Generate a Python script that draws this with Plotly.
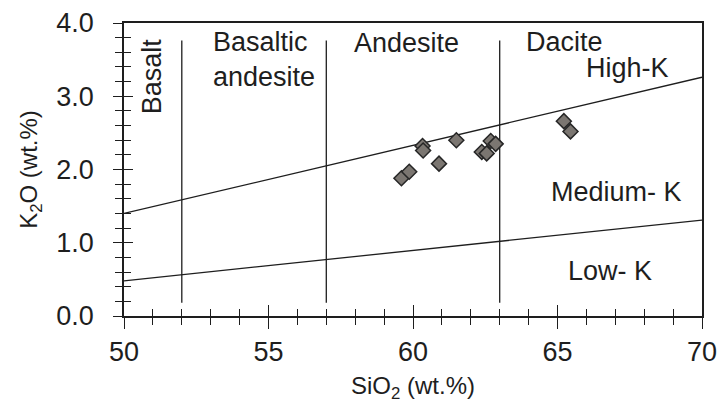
import plotly.graph_objects as go

# Sample data (SiO2 vs K2O, wt.%)
sio2 = [59.6, 59.87, 60.33, 60.35, 60.9, 61.5, 62.38, 62.55, 62.69, 62.86, 65.22, 65.45]
k2o = [1.88, 1.97, 2.32, 2.26, 2.08, 2.40, 2.24, 2.22, 2.39, 2.35, 2.66, 2.52]

# Classification boundaries
high_k_x = [50, 70]
high_k_y = [1.40, 3.26]
low_k_x = [50, 70]
low_k_y = [0.48, 1.31]
rock_bounds_x = [52, 57, 63]
rock_bounds_y = [0.18, 3.76]

# Labels
x_ticks = [50, 55, 60, 65, 70]
y_ticks = [0, 1, 2, 3, 4]
y_ticktext = ["0.0", "1.0", "2.0", "3.0", "4.0"]

FONT = "Liberation Sans, Arial, sans-serif"
INK = "#1e1e1e"
FS = 27

fig = go.Figure()

line_style = dict(color=INK, width=1.3)
fig.add_trace(go.Scatter(x=high_k_x, y=high_k_y, mode="lines", line=line_style,
                         showlegend=False, hoverinfo="skip"))
fig.add_trace(go.Scatter(x=low_k_x, y=low_k_y, mode="lines", line=line_style,
                         showlegend=False, hoverinfo="skip"))
for bx in rock_bounds_x:
    fig.add_trace(go.Scatter(x=[bx, bx], y=rock_bounds_y, mode="lines", line=line_style,
                             showlegend=False, hoverinfo="skip"))

fig.add_trace(go.Scatter(
    x=sio2, y=k2o, mode="markers",
    marker=dict(symbol="diamond", size=11.5, color="#7b7671",
                line=dict(color="#262626", width=1.5)),
    showlegend=False))

# invisible trace on overlay axes so they render
fig.add_trace(go.Scatter(x=[None], y=[None], xaxis="x2", yaxis="y2",
                         showlegend=False, hoverinfo="skip"))

labels = [
    dict(text="Basalt", x=51.0, y=3.27, textangle=-90, xanchor="center", yanchor="middle"),
    dict(text="Basaltic<br>andesite", x=53.0, y=3.50, xanchor="left", yanchor="middle", align="left"),
    dict(text="Andesite", x=57.9, y=3.73, xanchor="left", yanchor="middle"),
    dict(text="Dacite", x=63.85, y=3.74, xanchor="left", yanchor="middle"),
    dict(text="High-K", x=65.9, y=3.39, xanchor="left", yanchor="middle"),
    dict(text="Medium- K", x=64.7, y=1.69, xanchor="left", yanchor="middle"),
    dict(text="Low- K", x=65.3, y=0.61, xanchor="left", yanchor="middle"),
]
annotations = []
for a in labels:
    d = dict(xref="x", yref="y", showarrow=False,
             font=dict(family=FONT, size=FS, color=INK))
    d.update(a)
    annotations.append(d)

axis_common = dict(showgrid=False, zeroline=False, linecolor=INK, linewidth=1.5,
                   tickcolor=INK, tickwidth=1.3, automargin=False)

fig.update_layout(
    width=721, height=403,
    margin=dict(l=124, r=19, t=23, b=87),
    paper_bgcolor="white", plot_bgcolor="white",
    font=dict(family=FONT, size=FS, color=INK),
    annotations=annotations,
    xaxis=dict(range=[50, 70], tickvals=x_ticks, ticks="outside", ticklen=11,
               showline=True, mirror=True, ticklabelstandoff=0,
               minor=dict(ticks="outside", dtick=1, ticklen=7, tickcolor=INK, tickwidth=1.3),
               tickfont=dict(size=27),
               title=dict(text="SiO<sub>2</sub> (wt.%)", font=dict(size=24), standoff=13),
               **axis_common),
    yaxis=dict(range=[0, 4], tickvals=y_ticks, ticktext=y_ticktext, ticks="outside", ticklen=9,
               showline=True, mirror=True, ticklabelstandoff=14,
               minor=dict(ticks="outside", dtick=0.2, ticklen=7, tickcolor=INK, tickwidth=1.3),
               tickfont=dict(size=27),
               title=dict(text="K<sub>2</sub>O (wt.%)", font=dict(size=24), standoff=12),
               **axis_common),
    xaxis2=dict(range=[50, 70], overlaying="x", side="bottom", tickvals=x_ticks,
                ticks="inside", ticklen=11, showticklabels=False, showline=False,
                minor=dict(ticks="inside", dtick=1, ticklen=7, tickcolor=INK, tickwidth=1.3),
                showgrid=False, zeroline=False, tickcolor=INK, tickwidth=1.3),
    yaxis2=dict(range=[0, 4], overlaying="y", side="left", tickvals=y_ticks,
                ticks="inside", ticklen=9, showticklabels=False, showline=False,
                minor=dict(ticks="inside", dtick=0.2, ticklen=7, tickcolor=INK, tickwidth=1.3),
                showgrid=False, zeroline=False, tickcolor=INK, tickwidth=1.3),
)

# remove the default page margin so the 721x403 figure fills the window exactly
fig.write_html("out.html",
               config={"displayModeBar": False},
               post_script="document.body.style.margin='0';document.body.style.overflow='hidden';")
